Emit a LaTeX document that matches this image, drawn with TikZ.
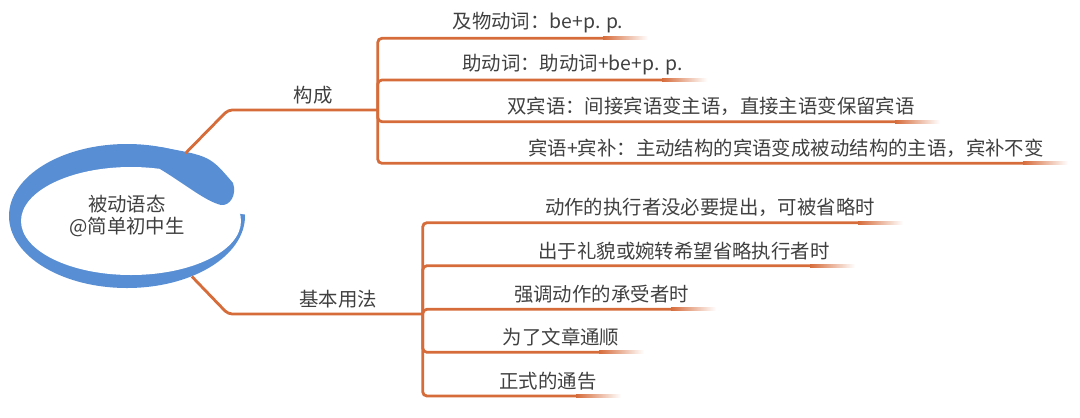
\documentclass[tikz,border=0pt]{standalone}
\usepackage{fontspec}
\setmainfont{Noto Sans CJK SC}
\usetikzlibrary{positioning,shapes.geometric}

\definecolor{ringblue}{RGB}{88,142,212}
\definecolor{linec}{RGB}{214,108,58}
\definecolor{textc}{RGB}{64,64,64}

\begin{document}
\begin{tikzpicture}[x=0.025cm, y=-0.025cm,
  root node/.style={ellipse, minimum width=5.9cm, minimum height=3.6cm, inner sep=0pt, align=center, text=textc, font=\fontsize{13.8}{15}\selectfont},
  label node/.style={inner sep=0pt, text=textc, font=\fontsize{13.8}{15}\selectfont},
  branch line/.style={draw=linec, line width=2pt, rounded corners=3pt},
  bracket/.style={to path={|- (\tikztotarget)}},
  tail/.style={left color=linec, right color=white}]

  \useasboundingbox (0,0) rectangle (1080,417);

  % ring round the root
  \fill[ringblue] (127,216) ellipse [x radius=118, y radius=72];
  \fill[white] (131,221) ellipse [x radius=110, y radius=54];
  \fill[white] (190,205) -- (265,140) -- (265,218) -- cycle;
  \fill[ringblue] (160,147) .. controls (210,156) .. (233,183)
    .. controls (237,195) and (230,206) .. (221,205)
    .. controls (205,201) and (185,184) .. (160,169) -- cycle;

  \node[root node] (n0) at (127,216) {被动语态\\@简单初中生};

  \node[label node] (k1) at (313,95) {构成};
  \node[label node] (k2) at (338,299) {基本用法};

  \coordinate (a1) at (228,110);
  \coordinate (c1) at (377.7,110);
  \coordinate (a2) at (228,314);
  \coordinate (c2) at (422.7,314);

  \draw[branch line] (n0.47) -- (a1) -- (c1);
  \draw[branch line] (n0.-43) -- (a2) -- (c2);

  \node[label node] (l1) at (538,23) {及物动词：be+p. p.};
  \node[label node] (l2) at (572.5,65) {助动词：助动词+be+p. p.};
  \node[label node] (l3) at (711,106.7) {双宾语：间接宾语变主语，直接主语变保留宾语};
  \node[label node] (l4) at (786,148.3) {宾语+宾补：主动结构的宾语变成被动结构的主语，宾补不变};

  \node[label node] (l5) at (710,207.7) {动作的执行者没必要提出，可被省略时};
  \node[label node] (l6) at (684,250.7) {出于礼貌或婉转希望省略执行者时};
  \node[label node] (l7) at (601.5,294) {强调动作的承受者时};
  \node[label node] (l8) at (561,337) {为了文章通顺};
  \node[label node] (l9) at (548,381) {正式的通告};

  \coordinate (f1) at (603,38.3);   \coordinate (e1) at (648,38.3);
  \coordinate (f2) at (662,80);     \coordinate (e2) at (707,80);
  \coordinate (f3) at (895,121.7);  \coordinate (e3) at (940,121.7);
  \coordinate (f4) at (1023,163.3); \coordinate (e4) at (1068,163.3);
  \coordinate (f5) at (858,222.7);  \coordinate (e5) at (903,222.7);
  \coordinate (f6) at (810,265.7);  \coordinate (e6) at (855,265.7);
  \coordinate (f7) at (671,309.3);  \coordinate (e7) at (716,309.3);
  \coordinate (f8) at (599,352.3);  \coordinate (e8) at (644,352.3);
  \coordinate (f9) at (576,396);    \coordinate (e9) at (621,396);

  \path (c1) [branch line] edge[bracket] (f1);
  \path (c1) [branch line] edge[bracket] (f2);
  \path (c1) [branch line] edge[bracket] (f3);
  \path (c1) [branch line] edge[bracket] (f4);
  \path (c2) [branch line] edge[bracket] (f5);
  \path (c2) [branch line] edge[bracket] (f6);
  \path (c2) [branch line] edge[bracket] (f7);
  \path (c2) [branch line] edge[bracket] (f8);
  \path (c2) [branch line] edge[bracket] (f9);

  \shade[tail] ([yshift=-1pt]f1) rectangle ([yshift=1pt]e1);
  \shade[tail] ([yshift=-1pt]f2) rectangle ([yshift=1pt]e2);
  \shade[tail] ([yshift=-1pt]f3) rectangle ([yshift=1pt]e3);
  \shade[tail] ([yshift=-1pt]f4) rectangle ([yshift=1pt]e4);
  \shade[tail] ([yshift=-1pt]f5) rectangle ([yshift=1pt]e5);
  \shade[tail] ([yshift=-1pt]f6) rectangle ([yshift=1pt]e6);
  \shade[tail] ([yshift=-1pt]f7) rectangle ([yshift=1pt]e7);
  \shade[tail] ([yshift=-1pt]f8) rectangle ([yshift=1pt]e8);
  \shade[tail] ([yshift=-1pt]f9) rectangle ([yshift=1pt]e9);
\end{tikzpicture}
\end{document}
